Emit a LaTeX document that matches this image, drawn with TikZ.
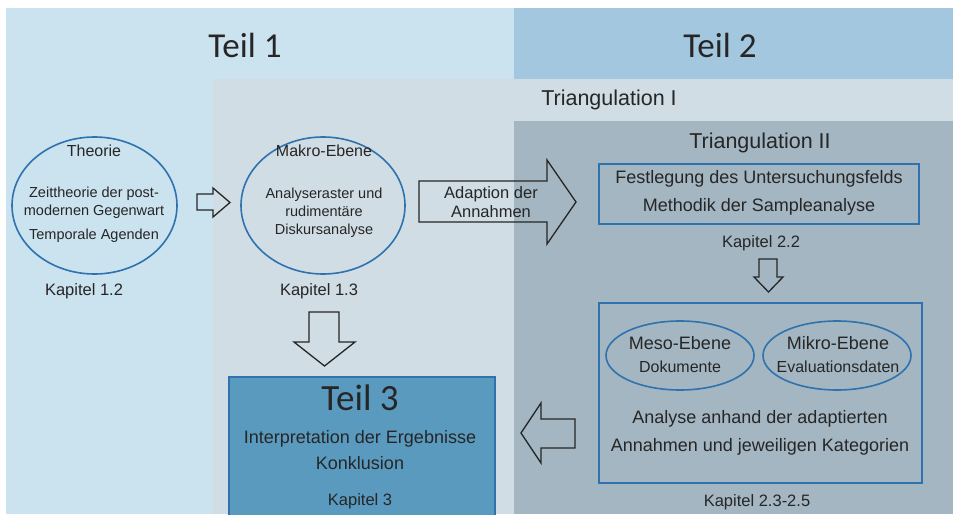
\documentclass[tikz,border=0pt]{standalone}
\usepackage{fontspec}
\setmainfont{Liberation Sans}
\newfontfamily\teilfont{Carlito}
\usetikzlibrary{shapes.geometric}

\definecolor{bgteilone}{HTML}{CBE2EF}
\definecolor{bgteiltwo}{HTML}{A3C7DF}
\definecolor{bgtriI}{HTML}{D1DDE4}
\definecolor{bgtriII}{HTML}{A3B6C2}
\definecolor{teilthree}{HTML}{5A9ABF}
\definecolor{edgeblue}{HTML}{2E72AE}
\definecolor{ink}{HTML}{262626}

\newcommand{\fs}[1]{\fontsize{#1}{#1}\selectfont}

\tikzset{
  txt/.style={text=ink, inner sep=0pt, align=center},
  oval/.style={ellipse, draw=edgeblue, line width=1.6pt, inner sep=0pt},
  framebox/.style={rectangle, draw=edgeblue, line width=1.8pt, inner sep=0pt},
  hollowarrow/.style={draw=ink, line width=1.3pt, line join=miter, fill=none},
  teil/.style={txt, font=\teilfont\fs{35}},
}

\begin{document}
\begin{tikzpicture}[x=1pt, y=-1pt]
  \useasboundingbox (0,0) rectangle (953,514);

  % background bands
  \fill[bgteilone] (6,8) rectangle (953,514);
  \fill[bgteiltwo] (514,8) rectangle (953,79);
  \fill[bgtriI] (213,79) rectangle (953,514);
  \fill[bgtriII] (514,121) rectangle (953,514);

  % headings
  \node[teil] (t1) at (245,45) {Teil 1};
  \node[teil] (t2) at (720,45) {Teil 2};
  \node[txt, font=\fs{21.5}] (triI) at (609,100) {Triangulation I};
  \node[txt, font=\fs{21.5}] (triII) at (760,143) {Triangulation II};

  % Teil 1: theory
  \node[oval, minimum width=165, minimum height=137] (theorie) at (94.5,205.5) {};
  \node[txt, font=\fs{16}] (theorieT) at (94,151) {Theorie};
  \node[txt, font=\fs{14.5}] (zeit) at (94,202.5) {Zeittheorie der post-\\[3pt]modernen Gegenwart};
  \node[txt, font=\fs{14.5}] (agenda) at (94,236) {Temporale Agenden};
  \node[txt, font=\fs{16.5}] (k12) at (84,291) {Kapitel 1.2};

  % Makro level
  \node[oval, minimum width=164, minimum height=137] (makro) at (323,205.5) {};
  \node[txt, font=\fs{16}] (makroT) at (324,151) {Makro-Ebene};
  \node[txt, font=\fs{14.5}] (raster) at (324,213) {Analyseraster und\\[3.5pt]rudimentäre\\[3.5pt]Diskursanalyse};
  \node[txt, font=\fs{16.5}] (k13) at (319,291) {Kapitel 1.3};

  % Triangulation II: field definition
  \node[framebox, minimum width=320, minimum height=60] (feld) at (759,194) {};
  \node[txt, font=\fs{18}] (feldT) at (759,193) {Festlegung des Untersuchungsfelds\\[10pt]Methodik der Sampleanalyse};
  \node[txt, font=\fs{16.5}] (k22) at (761,243) {Kapitel 2.2};

  % Triangulation II: analysis
  \node[framebox, minimum width=323, minimum height=180] (analyse) at (760.5,393) {};
  \node[oval, minimum width=148, minimum height=69] (meso) at (680,355.5) {};
  \node[oval, minimum width=148, minimum height=69] (mikro) at (837,355.5) {};
  \node[txt, font=\fs{18}] (mesoT) at (680,343) {Meso-Ebene};
  \node[txt, font=\fs{16}] (mesoS) at (680,367) {Dokumente};
  \node[txt, font=\fs{18}] (mikroT) at (838,343) {Mikro-Ebene};
  \node[txt, font=\fs{16}] (mikroS) at (838,367) {Evaluationsdaten};
  \node[txt, font=\fs{18}] (analyseT) at (760,433) {Analyse anhand der adaptierten\\[10pt]Annahmen und jeweiligen Kategorien};
  \node[txt, font=\fs{16.5}] (k235) at (757,502) {Kapitel 2.3-2.5};

  % Teil 3
  \fill[teilthree, draw=edgeblue, line width=1.5pt] (229,377) rectangle (495,520);
  \node[teil, font=\teilfont\fs{37}] (t3) at (360,398) {Teil 3};
  \node[txt, font=\fs{18}] (interp) at (360,450.5) {Interpretation der Ergebnisse\\[8pt]Konklusion};
  \node[txt, font=\fs{16.5}] (k3) at (360,501) {Kapitel 3};

  % hollow block arrows
  \draw[hollowarrow] (197,194) -- (213,194) -- (213,188) -- (230,202.5)
    -- (213,217) -- (213,210) -- (197,210) -- cycle;
  \draw[hollowarrow] (419,181) -- (547,181) -- (547,160) -- (576,202)
    -- (547,244) -- (547,222) -- (419,222) -- cycle;
  \node[txt, font=\fs{16.5}] (adapt) at (491,202) {Adaption der\\[2pt]Annahmen};
  \draw[hollowarrow] (759,259) -- (777,259) -- (777,277) -- (783,277)
    -- (768.5,292) -- (754,277) -- (759,277) -- cycle;
  \draw[hollowarrow] (309,312) -- (339,312) -- (339,342) -- (355,342)
    -- (324.5,366) -- (294,342) -- (309,342) -- cycle;
  \draw[hollowarrow] (575,419) -- (541,419) -- (541,403) -- (521,433)
    -- (541,463) -- (541,448) -- (575,448) -- cycle;
\end{tikzpicture}
\end{document}
